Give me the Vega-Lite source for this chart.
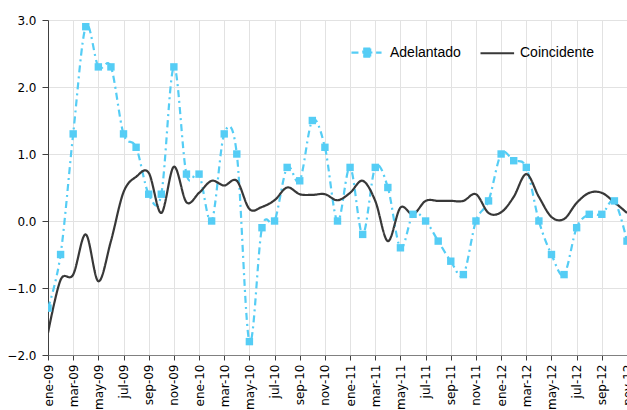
{
  "$schema": "https://vega.github.io/schema/vega-lite/v6.json",
  "autosize": {"type": "none"},
  "padding": {"left": 48, "top": 20, "right": 0, "bottom": 55},
  "width": 579,
  "height": 335,
  "background": "#ffffff",
  "config": {
    "view": {"stroke": null},
    "axis": {
      "labelFont": "DejaVu Sans",
      "labelFontSize": 12,
      "labelColor": "#000000",
      "domainColor": "#404040",
      "tickColor": "#404040",
      "tickSize": 5,
      "gridColor": "#e2e2e2",
      "gridWidth": 1,
      "title": null
    }
  },
  "data": {
    "values": [
      {"i": 0, "mes": "ene-09", "Adelantado": -1.3, "Coincidente": -1.67},
      {"i": 1, "mes": "feb-09", "Adelantado": -0.5, "Coincidente": -0.88},
      {"i": 2, "mes": "mar-09", "Adelantado": 1.3, "Coincidente": -0.8},
      {"i": 3, "mes": "abr-09", "Adelantado": 2.9, "Coincidente": -0.2},
      {"i": 4, "mes": "may-09", "Adelantado": 2.3, "Coincidente": -0.9},
      {"i": 5, "mes": "jun-09", "Adelantado": 2.3, "Coincidente": -0.3},
      {"i": 6, "mes": "jul-09", "Adelantado": 1.3, "Coincidente": 0.43},
      {"i": 7, "mes": "ago-09", "Adelantado": 1.1, "Coincidente": 0.66},
      {"i": 8, "mes": "sep-09", "Adelantado": 0.4, "Coincidente": 0.72},
      {"i": 9, "mes": "oct-09", "Adelantado": 0.4, "Coincidente": 0.12},
      {"i": 10, "mes": "nov-09", "Adelantado": 2.3, "Coincidente": 0.81},
      {"i": 11, "mes": "dic-09", "Adelantado": 0.7, "Coincidente": 0.28},
      {"i": 12, "mes": "ene-10", "Adelantado": 0.7, "Coincidente": 0.42},
      {"i": 13, "mes": "feb-10", "Adelantado": 0.0, "Coincidente": 0.6},
      {"i": 14, "mes": "mar-10", "Adelantado": 1.3, "Coincidente": 0.53},
      {"i": 15, "mes": "abr-10", "Adelantado": 1.0, "Coincidente": 0.6},
      {"i": 16, "mes": "may-10", "Adelantado": -1.8, "Coincidente": 0.18},
      {"i": 17, "mes": "jun-10", "Adelantado": -0.1, "Coincidente": 0.21},
      {"i": 18, "mes": "jul-10", "Adelantado": 0.0, "Coincidente": 0.31},
      {"i": 19, "mes": "ago-10", "Adelantado": 0.8, "Coincidente": 0.5},
      {"i": 20, "mes": "sep-10", "Adelantado": 0.6, "Coincidente": 0.4},
      {"i": 21, "mes": "oct-10", "Adelantado": 1.5, "Coincidente": 0.39},
      {"i": 22, "mes": "nov-10", "Adelantado": 1.1, "Coincidente": 0.4},
      {"i": 23, "mes": "dic-10", "Adelantado": 0.0, "Coincidente": 0.31},
      {"i": 24, "mes": "ene-11", "Adelantado": 0.8, "Coincidente": 0.42},
      {"i": 25, "mes": "feb-11", "Adelantado": -0.2, "Coincidente": 0.6},
      {"i": 26, "mes": "mar-11", "Adelantado": 0.8, "Coincidente": 0.3},
      {"i": 27, "mes": "abr-11", "Adelantado": 0.5, "Coincidente": -0.3},
      {"i": 28, "mes": "may-11", "Adelantado": -0.4, "Coincidente": 0.2},
      {"i": 29, "mes": "jun-11", "Adelantado": 0.1, "Coincidente": 0.1},
      {"i": 30, "mes": "jul-11", "Adelantado": 0.0, "Coincidente": 0.3},
      {"i": 31, "mes": "ago-11", "Adelantado": -0.3, "Coincidente": 0.3},
      {"i": 32, "mes": "sep-11", "Adelantado": -0.6, "Coincidente": 0.3},
      {"i": 33, "mes": "oct-11", "Adelantado": -0.8, "Coincidente": 0.3},
      {"i": 34, "mes": "nov-11", "Adelantado": 0.0, "Coincidente": 0.4},
      {"i": 35, "mes": "dic-11", "Adelantado": 0.3, "Coincidente": 0.12},
      {"i": 36, "mes": "ene-12", "Adelantado": 1.0, "Coincidente": 0.13},
      {"i": 37, "mes": "feb-12", "Adelantado": 0.9, "Coincidente": 0.36},
      {"i": 38, "mes": "mar-12", "Adelantado": 0.8, "Coincidente": 0.7},
      {"i": 39, "mes": "abr-12", "Adelantado": 0.0, "Coincidente": 0.36},
      {"i": 40, "mes": "may-12", "Adelantado": -0.5, "Coincidente": 0.06},
      {"i": 41, "mes": "jun-12", "Adelantado": -0.8, "Coincidente": 0.03},
      {"i": 42, "mes": "jul-12", "Adelantado": -0.1, "Coincidente": 0.27},
      {"i": 43, "mes": "ago-12", "Adelantado": 0.1, "Coincidente": 0.42},
      {"i": 44, "mes": "sep-12", "Adelantado": 0.1, "Coincidente": 0.42},
      {"i": 45, "mes": "oct-12", "Adelantado": 0.3, "Coincidente": 0.28},
      {"i": 46, "mes": "nov-12", "Adelantado": -0.3, "Coincidente": 0.12}
    ]
  },
  "transform": [
    {"fold": ["Adelantado", "Coincidente"], "as": ["serie", "valor"]}
  ],
  "encoding": {
    "x": {
      "field": "i",
      "type": "quantitative",
      "scale": {"domain": [0, 46], "nice": false, "zero": false},
      "axis": {
        "values": [0, 2, 4, 6, 8, 10, 12, 14, 16, 18, 20, 22, 24, 26, 28, 30, 32, 34, 36, 38, 40, 42, 44, 46],
        "labelExpr": "['ene','feb','mar','abr','may','jun','jul','ago','sep','oct','nov','dic'][datum.value % 12] + '-' + (floor(datum.value / 12) + 9 < 10 ? '0' : '') + (floor(datum.value / 12) + 9)",
        "labelAngle": -90,
        "labelFlush": false,
        "labelOverlap": false,
        "labelBound": false,
        "labelPadding": 4,
        "domainColor": "#808080",
        "tickColor": "#404040",
        "grid": true
      }
    },
    "y": {
      "field": "valor",
      "type": "quantitative",
      "scale": {"domain": [-2, 3], "nice": false},
      "axis": {
        "values": [-2, -1, 0, 1, 2, 3],
        "format": ".1f",
        "labelPadding": 6,
        "tickSize": 6,
        "grid": true
      }
    }
  },
  "layer": [
    {
      "mark": {"type": "line", "interpolate": "cardinal", "tension": 0, "clip": true},
      "encoding": {
        "color": {
          "field": "serie",
          "type": "nominal",
          "scale": {"domain": ["Adelantado", "Coincidente"], "range": ["#55cdf5", "#383838"]},
          "legend": {
            "orient": "none",
            "legendX": 301,
            "legendY": 15,
            "direction": "horizontal",
            "title": null,
            "padding": 0,
            "labelFont": "Liberation Sans",
            "labelFontSize": 14,
            "labelColor": "#000000",
            "labelOffset": 6,
            "columnPadding": 15,
            "symbolSize": 1024,
            "symbolStrokeWidth": 2.5,
            "encode": {
              "symbols": {
                "update": {
                  "shape": [
                    {"test": "datum.value === 'Adelantado'", "value": "M-0.94,0H0.1M-0.2,-0.25H0.3V0.25H-0.2ZM0.6,0H0.94"},
                    {"value": "M-1,0H1.1"}
                  ],
                  "fill": [
                    {"test": "datum.value === 'Adelantado'", "value": "#55cdf5"},
                    {"value": "transparent"}
                  ],
                  "strokeWidth": {"value": 2.5}
                }
              }
            }
          }
        },
        "strokeDash": {
          "field": "serie",
          "type": "nominal",
          "scale": {"domain": ["Adelantado", "Coincidente"], "range": [[7, 4, 2, 4], [1, 0]]},
          "legend": null
        },
        "strokeWidth": {
          "field": "serie",
          "type": "nominal",
          "scale": {"domain": ["Adelantado", "Coincidente"], "range": [2.2, 2.2]},
          "legend": null
        }
      }
    },
    {
      "transform": [{"filter": "datum.serie === 'Adelantado'"}],
      "mark": {"type": "point", "shape": "square", "filled": true, "size": 55, "opacity": 1, "color": "#55cdf5", "clip": true}
    }
  ]
}
